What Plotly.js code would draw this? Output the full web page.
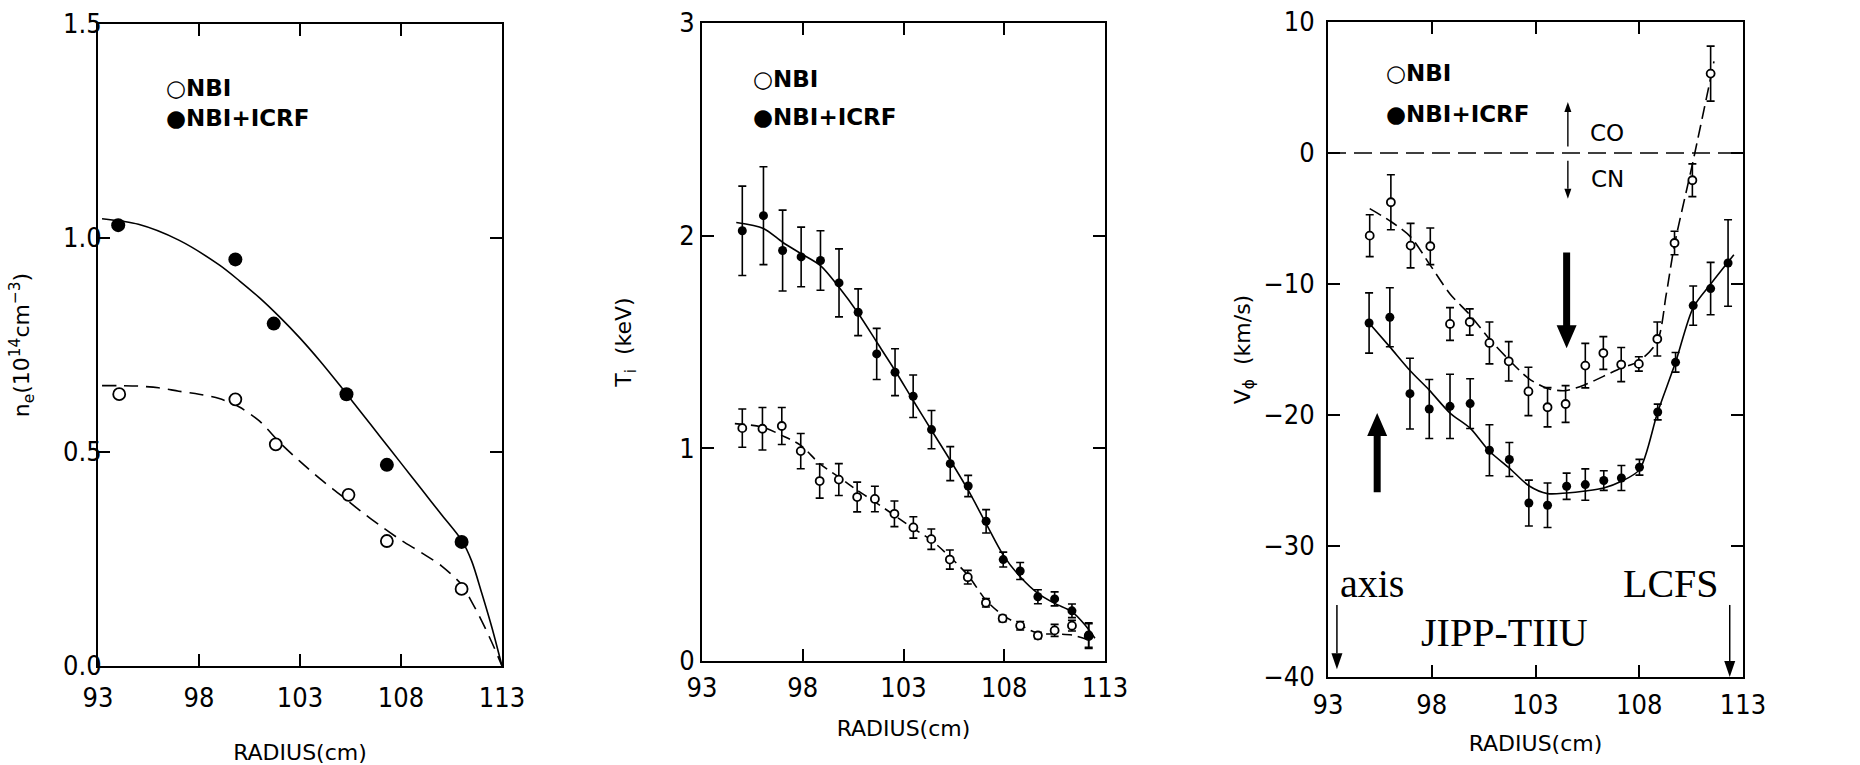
<!DOCTYPE html>
<html><head><meta charset="utf-8">
<script src="https://cdn.plot.ly/plotly-3.0.1.min.js"></script>
<style>html,body{margin:0;padding:0;background:#fff;}#chart{width:1860px;height:765px;}</style>
</head><body><div id="chart"></div>
<script>
// ---------- shared ----------
const radiusTicks = [93, 98, 103, 108, 113];

// ---------- panel 1 : electron density ----------
const neR_icrf = [94.0, 99.8, 101.7, 105.3, 107.3, 111.0];
const neV_icrf = [1.03, 0.95, 0.80, 0.635, 0.47, 0.29];
const neR_nbi = [94.05, 99.8, 101.8, 105.4, 107.3, 111.0];
const neV_nbi = [0.635, 0.623, 0.518, 0.40, 0.292, 0.18];
const neFitR_icrf = [93.2, 95, 97, 99, 100, 101, 102, 103, 104, 105, 106, 107, 108, 109, 110, 111, 111.5, 112, 112.5, 113];
const neFit_icrf = [1.045, 1.032, 0.995, 0.937, 0.90, 0.86, 0.815, 0.766, 0.712, 0.654, 0.594, 0.534, 0.474, 0.414, 0.354, 0.294, 0.245, 0.17, 0.09, 0.0];
const neFitR_nbi = [93.2, 94, 95, 96, 97, 98, 99, 100, 101, 102, 103, 104, 105, 106, 107, 108, 109, 110, 111, 111.5, 112, 112.5, 113];
const neFit_nbi = [0.655, 0.655, 0.654, 0.65, 0.642, 0.635, 0.625, 0.605, 0.572, 0.522, 0.478, 0.437, 0.40, 0.362, 0.327, 0.294, 0.265, 0.234, 0.19, 0.15, 0.105, 0.055, 0.0];

// ---------- panel 2 : ion temperature ----------
const tiR_icrf = [95.0, 96.05, 97.0, 97.92, 98.88, 99.8, 100.75, 101.67, 102.58, 103.48, 104.39, 105.32, 106.21, 107.1, 107.95, 108.79, 109.67, 110.5, 111.36, 112.19];
const tiV_icrf = [2.023, 2.094, 1.93, 1.90, 1.883, 1.778, 1.64, 1.444, 1.358, 1.245, 1.088, 0.928, 0.823, 0.657, 0.477, 0.423, 0.302, 0.292, 0.236, 0.122];
const tiE_icrf = [0.21, 0.23, 0.19, 0.14, 0.14, 0.16, 0.11, 0.12, 0.11, 0.10, 0.09, 0.08, 0.05, 0.055, 0.035, 0.04, 0.033, 0.033, 0.032, 0.058];
const tiR_nbi = [95.0, 96.0, 96.96, 97.9, 98.84, 99.79, 100.7, 101.58, 102.55, 103.49, 104.38, 105.3, 106.19, 107.09, 107.92, 108.79, 109.67, 110.5, 111.36, 112.19];
const tiV_nbi = [1.095, 1.092, 1.105, 0.987, 0.846, 0.853, 0.771, 0.762, 0.692, 0.628, 0.573, 0.477, 0.394, 0.274, 0.2, 0.166, 0.12, 0.144, 0.166, 0.117];
const tiE_nbi = [0.09, 0.1, 0.087, 0.083, 0.08, 0.075, 0.07, 0.06, 0.06, 0.05, 0.048, 0.045, 0.032, 0.02, 0.015, 0.02, 0.015, 0.028, 0.025, 0.058];
const tiFitR_icrf = [94.7, 96.05, 97.0, 97.92, 98.88, 99.8, 100.75, 101.67, 102.58, 103.48, 104.39, 105.32, 106.21, 107.1, 107.95, 108.79, 109.67, 110.5, 111.36, 112.0, 112.5];
const tiFit_icrf = [2.062, 2.034, 1.969, 1.915, 1.859, 1.757, 1.635, 1.50, 1.366, 1.225, 1.085, 0.944, 0.803, 0.646, 0.498, 0.396, 0.318, 0.271, 0.232, 0.17, 0.107];
const tiFitR_nbi = [94.63, 96.0, 96.96, 97.9, 98.84, 99.79, 100.7, 101.58, 102.55, 103.49, 104.38, 105.3, 106.19, 107.09, 107.92, 108.79, 109.67, 110.5, 111.36, 112.2];
const tiFit_nbi = [1.116, 1.10, 1.061, 1.014, 0.928, 0.865, 0.803, 0.748, 0.685, 0.623, 0.568, 0.49, 0.404, 0.286, 0.216, 0.169, 0.13, 0.127, 0.122, 0.099];

// ---------- panel 3 : toroidal rotation ----------
const vR_nbi = [95.01, 96.03, 96.98, 97.93, 98.88, 99.83, 100.78, 101.71, 102.66, 103.58, 104.45, 105.4, 106.27, 107.13, 107.98, 108.87, 109.7, 110.56, 111.44];
const vV_nbi = [-6.31, -3.76, -7.07, -7.12, -13.05, -12.9, -14.5, -15.9, -18.2, -19.41, -19.16, -16.23, -15.27, -16.15, -16.1, -14.2, -6.87, -2.08, 6.06];
const vE_nbi = [1.6, 2.1, 1.7, 1.4, 1.25, 1.0, 1.6, 1.5, 1.85, 1.5, 1.4, 1.7, 1.25, 1.3, 0.55, 1.3, 0.9, 1.25, 2.1];
const vR_icrf = [94.98, 95.98, 96.95, 97.88, 98.88, 99.85, 100.78, 101.74, 102.68, 103.58, 104.5, 105.4, 106.29, 107.14, 108.01, 108.89, 109.75, 110.6, 111.44, 112.28];
const vV_icrf = [-12.98, -12.54, -18.37, -19.54, -19.34, -19.13, -22.69, -23.4, -26.72, -26.89, -25.44, -25.31, -25.0, -24.81, -23.99, -19.77, -15.98, -11.65, -10.35, -8.4];
const vE_icrf = [2.3, 2.25, 2.7, 2.25, 2.45, 1.9, 1.95, 1.3, 1.75, 1.7, 1.0, 1.2, 0.75, 0.95, 0.6, 0.6, 0.75, 1.5, 2.0, 3.3];
const vFitR_nbi = [95.01, 96.0, 96.98, 97.9, 98.88, 99.83, 100.78, 101.71, 102.66, 103.58, 104.45, 105.4, 106.27, 107.13, 107.98, 108.87, 109.3, 109.7, 110.56, 111.44, 111.6];
const vFit_nbi = [-4.25, -5.2, -6.4, -8.5, -10.76, -12.34, -14.2, -15.77, -17.2, -17.98, -18.14, -17.68, -17.05, -16.41, -15.9, -14.37, -10.8, -7.0, -0.87, 5.73, 7.0];
const vFitR_icrf = [94.98, 95.98, 96.95, 97.88, 98.88, 99.85, 100.78, 101.74, 102.68, 103.58, 104.5, 105.4, 106.29, 107.14, 108.01, 108.89, 109.75, 110.6, 111.44, 112.56];
const vFit_icrf = [-12.98, -14.8, -16.6, -18.1, -19.85, -21.0, -22.77, -24.05, -25.4, -26.0, -25.95, -25.8, -25.57, -25.06, -24.17, -19.77, -15.98, -11.8, -10.0, -7.76];

// ---------- styling ----------
const BLACK = '#000';
const tickFont = {family: '"Liberation Sans Narrow", "DejaVu Sans Condensed", "Arial Narrow", sans-serif', size: 27, color: BLACK};
const labFont = {family: '"DejaVu Sans", sans-serif', size: 22, color: BLACK};
const legFont = {family: '"DejaVu Sans", sans-serif', size: 23, color: BLACK, weight: 'bold'};
const coFont = {family: '"DejaVu Sans", sans-serif', size: 23, color: BLACK};
const serifFont = {family: '"Liberation Serif", "Times New Roman", serif', size: 40, color: BLACK};

function fitLine(x, y, xa, ya, dash) {
  return {type: 'scatter', mode: 'lines', x: x, y: y, xaxis: xa, yaxis: ya,
    line: {color: BLACK, width: 1.6, dash: dash, shape: 'spline', smoothing: 0.8},
    hoverinfo: 'skip', showlegend: false};
}
function pts(x, y, err, xa, ya, filled, size) {
  const t = {type: 'scatter', mode: 'markers', x: x, y: y, xaxis: xa, yaxis: ya, showlegend: false,
    marker: {symbol: 'circle', size: size, color: filled ? BLACK : '#fff',
             line: {color: BLACK, width: filled ? 0 : 1.8}}};
  if (err) t.error_y = {type: 'data', array: err, visible: true, color: BLACK, thickness: 1.6, width: 4};
  return t;
}

const traces = [
  fitLine(neFitR_icrf, neFit_icrf, 'x', 'y', 'solid'),
  fitLine(neFitR_nbi, neFit_nbi, 'x', 'y', '14px,8px'),
  pts(neR_icrf, neV_icrf, null, 'x', 'y', true, 14),
  pts(neR_nbi, neV_nbi, null, 'x', 'y', false, 12),

  fitLine(tiFitR_icrf, tiFit_icrf, 'x2', 'y2', 'solid'),
  fitLine(tiFitR_nbi, tiFit_nbi, 'x2', 'y2', '10px,6px'),
  pts(tiR_nbi, tiV_nbi, tiE_nbi, 'x2', 'y2', false, 8),
  pts(tiR_icrf, tiV_icrf, tiE_icrf, 'x2', 'y2', true, 9),

  fitLine(vFitR_icrf, vFit_icrf, 'x3', 'y3', 'solid'),
  fitLine(vFitR_nbi, vFit_nbi, 'x3', 'y3', '13px,6px'),
  pts(vR_nbi, vV_nbi, vE_nbi, 'x3', 'y3', false, 8),
  pts(vR_icrf, vV_icrf, vE_icrf, 'x3', 'y3', true, 9)
];

function xaxis(domain, anchor, standoff, labStand) {
  return {domain: domain, anchor: anchor, range: [93, 113], tickvals: radiusTicks,
    ticks: 'inside', ticklen: 12, tickwidth: 2, tickcolor: BLACK,
    showline: true, linewidth: 2, linecolor: BLACK, mirror: 'ticks',
    showgrid: false, zeroline: false, tickfont: tickFont, ticklabelstandoff: labStand,
    title: {text: 'RADIUS(cm)', font: labFont, standoff: standoff}};
}
function yaxis(domain, anchor, range, tickvals, fmt, title, standoff, labStand) {
  const a = {domain: domain, anchor: anchor, range: range, tickvals: tickvals,
    ticks: 'inside', ticklen: 12, tickwidth: 2, tickcolor: BLACK,
    showline: true, linewidth: 2, linecolor: BLACK, mirror: 'ticks',
    showgrid: false, zeroline: false, tickfont: tickFont, ticklabelstandoff: labStand,
    title: {text: title, font: labFont, standoff: standoff}};
  if (fmt) a.tickformat = fmt;
  return a;
}

const W = 1860, H = 765;
const px = (a, b) => [a / W, b / W];
const py = (top, bottom) => [1 - bottom / H, 1 - top / H];

// pixel scale of panel 3 (used only to shape arrow decorations)
const P3 = {x0: 1328, x1: 1743, top: 22, bottom: 677, xr: [93, 113], yr: [-40, 10]};
const XPX = (P3.x1 - P3.x0) / (P3.xr[1] - P3.xr[0]);
const YPX = (P3.bottom - P3.top) / (P3.yr[1] - P3.yr[0]);

// vertical arrow drawn as shapes (shaft + filled head) in panel-3 data space
function vArrow(x, yTail, yTip, shaftPx, headWPx, headLPx) {
  const dir = yTip > yTail ? 1 : -1;
  const hw = headWPx / 2 / XPX, hl = headLPx / YPX;
  const yb = yTip - dir * hl;
  const out = [];
  if (shaftPx > 3) {
    const sw = shaftPx / 2 / XPX;
    out.push({type: 'path', xref: 'x3', yref: 'y3', fillcolor: BLACK, line: {width: 0},
      path: `M${x - sw},${yTail} L${x + sw},${yTail} L${x + sw},${yb} L${x + hw},${yb} L${x},${yTip} L${x - hw},${yb} L${x - sw},${yb} Z`});
  } else {
    out.push({type: 'line', xref: 'x3', yref: 'y3', x0: x, x1: x, y0: yTail, y1: yb,
      line: {color: BLACK, width: shaftPx}});
    out.push({type: 'path', xref: 'x3', yref: 'y3', fillcolor: BLACK, line: {width: 0},
      path: `M${x - hw},${yb} L${x},${yTip} L${x + hw},${yb} Z`});
  }
  return out;
}

const openMark = '○';
const fullMark = '●';
function legend(xr, yr, x, y1, y2) {
  return [
    {xref: xr, yref: yr, x: x, y: y1, xanchor: 'left', yanchor: 'middle', showarrow: false, text: openMark + 'NBI', font: legFont},
    {xref: xr, yref: yr, x: x, y: y2, xanchor: 'left', yanchor: 'middle', showarrow: false, text: fullMark + 'NBI+ICRF', font: legFont}
  ];
}

const layout = {
  width: W, height: H, margin: {l: 0, r: 0, t: 0, b: 0},
  paper_bgcolor: '#fff', plot_bgcolor: '#fff', showlegend: false,
  xaxis: xaxis(px(98, 502), 'y', 52, 7),
  yaxis: yaxis(py(24, 666), 'x', [0, 1.5], [0, 0.5, 1.0, 1.5], '.1f',
               'n<sub>e</sub>(10<sup>14</sup>cm<sup>−3</sup>)', 27, -11),
  xaxis2: xaxis(px(702, 1105), 'y2', 18, 2),
  yaxis2: yaxis(py(23, 661), 'x2', [0, 3], [0, 1, 2, 3], null, 'T<sub>i</sub>  (keV)', 41, 0),
  xaxis3: xaxis(px(P3.x0, P3.x1), 'y3', 16, 3),
  yaxis3: yaxis(py(P3.top, P3.bottom), 'x3', P3.yr, [-40, -30, -20, -10, 0, 10], null, 'V<sub>ϕ</sub>  (km/s)', 7, 6),
  shapes: [].concat(
    [{type: 'line', xref: 'x3 domain', yref: 'y3', x0: 0, x1: 1, y0: 0, y1: 0,
      line: {color: BLACK, width: 1.6, dash: '18px,8px'}}],
    vArrow(104.56, 0.5, 3.9, 1.4, 7, 10),     // CO arrow
    vArrow(104.56, -0.6, -3.5, 1.4, 7, 10),   // CN arrow
    vArrow(104.5, -7.6, -14.9, 7, 20, 23),    // thick down arrow
    vArrow(95.37, -25.9, -19.85, 7, 20, 23),  // thick up arrow
    vArrow(93.43, -34.5, -39.4, 1.5, 11, 16), // axis arrow
    vArrow(112.36, -34.5, -40, 1.5, 11, 16)   // LCFS arrow
  ),
  annotations: [].concat(
    legend('x domain', 'y domain', 0.163, (666 - 88) / 642, (666 - 118) / 642),
    legend('x2 domain', 'y2 domain', 0.121, (661 - 79) / 638, (661 - 117) / 638),
    legend('x3 domain', 'y3 domain', 0.135, (677 - 73) / 655, (677 - 114) / 655),
    [
    {xref: 'x3', yref: 'y3', x: 106.45, y: 1.5, showarrow: false, text: 'CO', font: coFont},
    {xref: 'x3', yref: 'y3', x: 106.45, y: -2.0, showarrow: false, text: 'CN', font: coFont},
    {xref: 'x3', yref: 'y3', x: 95.11, y: -32.9, showarrow: false, text: 'axis', font: serifFont},
    {xref: 'x3', yref: 'y3', x: 109.55, y: -32.9, showarrow: false, text: 'LCFS', font: serifFont},
    {xref: 'x3', yref: 'y3', x: 101.5, y: -36.6, showarrow: false, text: 'JIPP-TIIU', font: serifFont}
    ])
};

Plotly.newPlot('chart', traces, layout, {displayModeBar: false, staticPlot: true});
</script></body></html>
